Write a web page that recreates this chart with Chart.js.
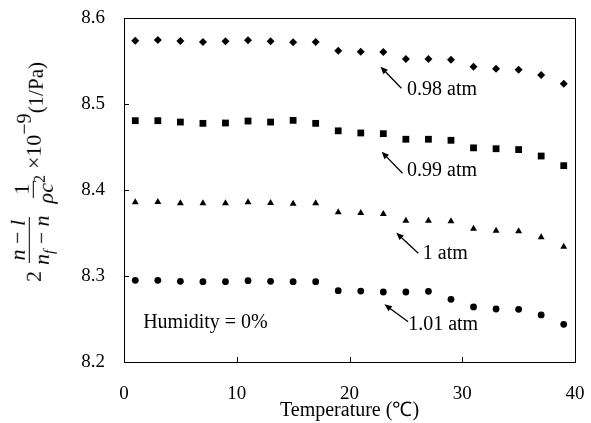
<!DOCTYPE html>
<html>
<head>
<meta charset="utf-8">
<script src="https://cdn.jsdelivr.net/npm/chart.js@4.4.1/dist/chart.umd.min.js"></script>
<style>
  body { margin: 0; background: #fff; }
  #wrap { position: relative; width: 591px; height: 423px; }
  #ytitle {
    position: absolute; left: 34px; top: 172px;
    transform: translate(-50%, -50%) rotate(-90deg);
    font-family: 'Liberation Serif', serif; font-size: 22px; color: #000;
    white-space: nowrap; display: flex; align-items: center;
  }
  .frac { display: inline-flex; flex-direction: column; align-items: center; margin: 0 3px; }
  .frac .num { border-bottom: 1px solid #000; padding: 0 3px; line-height: 22px; }
  .frac .den { padding: 0 3px; line-height: 24px; }
  sub { font-size: 15px; }
  sup { font-size: 20px; vertical-align: 10px; line-height: 0; }
  .frac sup { font-size: 16px; vertical-align: 8px; }
  .unit { font-size: 21px; position: relative; top: 2px; }
</style>
</head>
<body>
<div id="wrap">
  <canvas id="chart" width="591" height="423"></canvas>
  <div id="ytitle">
    <span>2</span>
    <span class="frac"><span class="num"><i>n</i> &#8722; <i>l</i></span><span class="den"><i>n</i><sub><i>f</i></sub> &#8722; <i>n</i></span></span>
    <span class="frac"><span class="num">1</span><span class="den"><i>&#961;c</i><sup>2</sup></span></span>
    <span>&#215;10<sup>&#8722;9</sup></span><span class="unit">(1/Pa)</span>
  </div>
</div>
<script>
const temps = [1, 3, 5, 7, 9, 11, 13, 15, 17, 19, 21, 23, 25, 27, 29, 31, 33, 35, 37, 39];
const atm098 = [8.5736, 8.5744, 8.5733, 8.5720, 8.5729, 8.5740, 8.5729, 8.5717, 8.5720, 8.5620,
  8.5608, 8.5605, 8.5523, 8.5523, 8.5515, 8.5434, 8.5410, 8.5399, 8.5337, 8.5236];
const atm099 = [8.4806, 8.4806, 8.4790, 8.4775, 8.4779, 8.4802, 8.4790, 8.4810, 8.4775, 8.4688,
  8.4663, 8.4655, 8.4590, 8.4590, 8.4578, 8.4490, 8.4480, 8.4470, 8.4395, 8.4283];
const atm100 = [8.3857, 8.3860, 8.3845, 8.3845, 8.3845, 8.3857, 8.3850, 8.3840, 8.3845, 8.3740,
  8.3733, 8.3721, 8.3643, 8.3643, 8.3636, 8.3550, 8.3527, 8.3520, 8.3450, 8.3340];
const atm101 = [8.2950, 8.2950, 8.2938, 8.2934, 8.2934, 8.2946, 8.2938, 8.2934, 8.2934, 8.2829,
  8.2825, 8.2814, 8.2814, 8.2822, 8.2729, 8.2640, 8.2616, 8.2612, 8.2547, 8.2438];
const seriesNames = ['0.98 atm', '0.99 atm', '1 atm', '1.01 atm'];
const xTicks = [0, 10, 20, 30, 40];
const yTicks = [8.2, 8.3, 8.4, 8.5, 8.6];

// arrow labels, in data units: [text, headX, headY, tailX, tailY, textX, textY]
const notes = [
  [seriesNames[0], 22.75, 8.5434, 24.6, 8.5183, 25.1, 8.5163],
  [seriesNames[1], 22.85, 8.4445, 24.7, 8.4194, 25.1, 8.4224],
  [seriesNames[2], 24.15, 8.3503, 26.1, 8.3264, 26.5, 8.3256],
  [seriesNames[3], 23.1, 8.2671, 25.2, 8.2469, 25.2, 8.2430],
  ['Humidity = 0%', null, null, null, null, 1.7, 8.2453],
];

const FONT = "'Liberation Serif', 'Times New Roman', serif";

const toPoints = (ys) => temps.map((t, i) => ({ x: t, y: ys[i] }));

const mkSet = (label, ys, style, r) => ({
  label,
  data: toPoints(ys),
  pointStyle: style,
  pointRadius: r,
  backgroundColor: '#000',
  borderColor: '#000',
  borderWidth: 0,
  showLine: false,
});

const framePlugin = {
  id: 'frame',
  afterDraw(chart) {
    const { ctx, chartArea: a, scales } = chart;
    ctx.save();
    ctx.strokeStyle = '#000';
    ctx.lineWidth = 1;
    ctx.strokeRect(a.left + 0.5, a.top + 0.5, a.right - a.left, a.bottom - a.top);
    ctx.beginPath();
    yTicks.forEach((v) => {
      const y = Math.round(scales.y.getPixelForValue(v)) + 0.5;
      ctx.moveTo(a.left, y);
      ctx.lineTo(a.left + 5, y);
    });
    xTicks.forEach((v) => {
      const x = Math.round(scales.x.getPixelForValue(v)) + 0.5;
      ctx.moveTo(x, a.bottom);
      ctx.lineTo(x, a.bottom - 5);
    });
    ctx.stroke();

    // annotations
    ctx.fillStyle = '#000';
    ctx.font = '20px ' + FONT;
    ctx.textBaseline = 'middle';
    ctx.textAlign = 'left';
    notes.forEach(([text, hx, hy, tx, ty, lx, ly]) => {
      if (hx !== null) {
        const x1 = scales.x.getPixelForValue(tx);
        const y1 = scales.y.getPixelForValue(ty);
        const x2 = scales.x.getPixelForValue(hx);
        const y2 = scales.y.getPixelForValue(hy);
        const ang = Math.atan2(y2 - y1, x2 - x1);
        ctx.lineWidth = 1.3;
        ctx.beginPath();
        ctx.moveTo(x1, y1);
        ctx.lineTo(x2 - 4 * Math.cos(ang), y2 - 4 * Math.sin(ang));
        ctx.stroke();
        ctx.beginPath();
        ctx.moveTo(x2, y2);
        ctx.lineTo(x2 - 8 * Math.cos(ang - 0.4), y2 - 8 * Math.sin(ang - 0.4));
        ctx.lineTo(x2 - 8 * Math.cos(ang + 0.4), y2 - 8 * Math.sin(ang + 0.4));
        ctx.closePath();
        ctx.fill();
      }
      ctx.fillText(text, scales.x.getPixelForValue(lx), scales.y.getPixelForValue(ly));
    });
    ctx.restore();
  },
};

new Chart(document.getElementById('chart'), {
  type: 'scatter',
  data: {
    datasets: [
      mkSet(seriesNames[0], atm098, 'rectRot', 4),
      mkSet(seriesNames[1], atm099, 'rect', 4.8),
      mkSet(seriesNames[2], atm100, 'triangle', 4),
      mkSet(seriesNames[3], atm101, 'circle', 3.4),
    ],
  },
  options: {
    responsive: false,
    animation: false,
    layout: { padding: { left: 0, right: 16, top: 18, bottom: 0 } },
    plugins: { legend: { display: false }, tooltip: { enabled: false } },
    scales: {
      x: {
        type: 'linear',
        min: 0,
        max: 40,
        afterFit: (s) => {
          s.height = 61;
          s.paddingLeft = 0;
          s.paddingRight = 0;
        },
        afterBuildTicks: (s) => { s.ticks = xTicks.map((v) => ({ value: v })); },
        ticks: { color: '#000', font: { family: FONT, size: 19 }, padding: 21, maxRotation: 0 },
        grid: { drawOnChartArea: false, drawTicks: false },
        border: { color: '#000' },
        title: {
          display: true,
          text: 'Temperature (℃)',
          color: '#000',
          font: { family: FONT, size: 20 },
          padding: { top: 0, bottom: 0 },
        },
      },
      y: {
        min: 8.2,
        max: 8.6,
        afterFit: (s) => {
          s.width = 124;
          s.paddingTop = 0;
          s.paddingBottom = 0;
        },
        afterBuildTicks: (s) => { s.ticks = yTicks.map((v) => ({ value: v })); },
        ticks: {
          color: '#000',
          font: { family: FONT, size: 19 },
          padding: 19,
          callback: (v) => v.toFixed(1),
        },
        grid: { drawOnChartArea: false, drawTicks: false },
        border: { color: '#000' },
      },
    },
  },
  plugins: [framePlugin],
});
</script>
</body>
</html>
